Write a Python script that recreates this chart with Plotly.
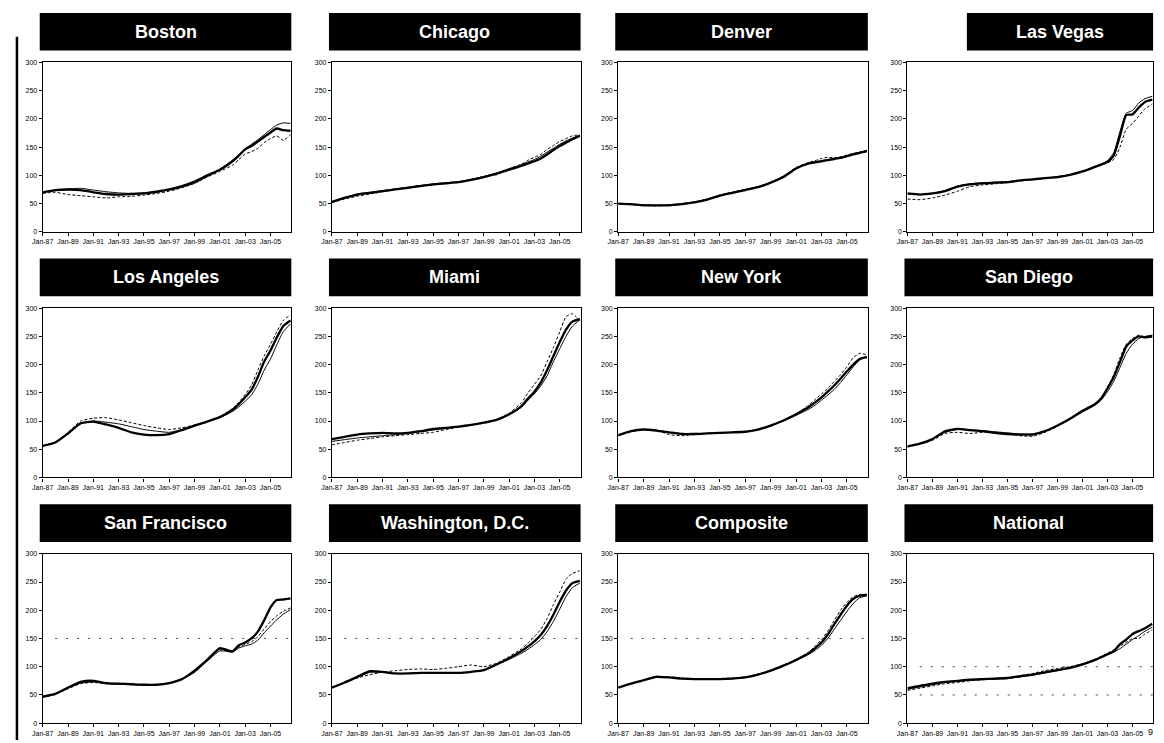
import plotly.graph_objects as go

# ---------------- data ----------------
DATES = [f"{y}-01-01" for y in range(1987, 2003)] + [
    "2002-07-01", "2003-01-01", "2003-07-01", "2004-01-01", "2004-07-01",
    "2005-01-01", "2005-07-01", "2006-01-01", "2006-08-01"]

TICK_VALS = [f"{y}-01-01" for y in range(1987, 2006, 2)]
TICK_LABELS = ["Jan-87", "Jan-89", "Jan-91", "Jan-93", "Jan-95",
               "Jan-97", "Jan-99", "Jan-01", "Jan-03", "Jan-05"]

CITIES = ["Boston", "Chicago", "Denver", "Las Vegas",
          "Los Angeles", "Miami", "New York", "San Diego",
          "San Francisco", "Washington, D.C.", "Composite", "National"]

boston_thick = [70, 74, 75, 74, 70, 67, 66, 67, 68, 71, 75, 81, 89, 100, 110, 125, 135, 146, 152, 160, 168, 176, 183, 180, 179]
boston_thin = [70, 73, 76, 77, 74, 71, 69, 68, 69, 71, 74, 79, 86, 98, 111, 127, 137, 147, 155, 163, 172, 181, 189, 193, 192]
boston_dash = [68, 70, 66, 64, 62, 60, 62, 63, 65, 68, 72, 78, 86, 97, 107, 118, 128, 138, 142, 148, 158, 165, 170, 162, 172]

chicago_thick = [53, 60, 66, 69, 72, 75, 78, 81, 84, 86, 88, 92, 97, 103, 110, 117, 121, 125, 130, 137, 145, 152, 158, 164, 170]
chicago_thin = [53, 61, 67, 70, 73, 76, 79, 82, 85, 87, 89, 93, 98, 104, 112, 119, 124, 128, 134, 141, 148, 155, 161, 166, 171]
chicago_dash = [52, 58, 63, 67, 71, 75, 79, 82, 84, 86, 88, 92, 98, 101, 112, 120, 127, 132, 137, 146, 153, 160, 165, 170, 172]

denver_thick = [50, 49, 47, 47, 47, 49, 52, 57, 64, 69, 74, 79, 87, 97, 112, 121, 123, 125, 127, 129, 131, 134, 137, 140, 143]
denver_thin = [50, 49, 48, 47, 48, 50, 53, 58, 65, 70, 75, 80, 88, 98, 113, 122, 124, 126, 128, 130, 132, 135, 138, 141, 144]
denver_dash = [50, 48, 47, 46, 47, 49, 52, 58, 65, 70, 75, 80, 88, 99, 114, 123, 126, 130, 132, 131, 133, 136, 139, 141, 144]

vegas_thick = [68, 66, 68, 72, 80, 84, 86, 87, 88, 91, 93, 95, 97, 101, 107, 115, 119, 124, 135, 170, 207, 208, 220, 230, 234]
vegas_thin = [67, 66, 68, 73, 81, 85, 87, 88, 89, 91, 93, 95, 98, 101, 107, 116, 120, 126, 140, 178, 210, 215, 228, 236, 240]
vegas_dash = [58, 57, 60, 65, 72, 80, 83, 85, 87, 90, 92, 95, 97, 101, 107, 114, 118, 122, 128, 150, 182, 192, 205, 218, 226]

la_thick = [56, 62, 78, 96, 99, 94, 88, 80, 76, 75, 77, 84, 92, 99, 107, 120, 130, 142, 155, 178, 205, 225, 248, 268, 278]
la_thin = [56, 62, 77, 95, 100, 98, 95, 90, 85, 82, 80, 85, 92, 99, 106, 117, 125, 135, 146, 165, 190, 210, 235, 258, 272]
la_dash = [56, 63, 80, 100, 105, 106, 102, 97, 92, 88, 85, 88, 93, 99, 108, 122, 133, 147, 163, 190, 215, 236, 258, 278, 288]

miami_thick = [68, 72, 76, 78, 79, 78, 79, 82, 86, 88, 90, 93, 97, 102, 112, 127, 140, 152, 168, 190, 215, 240, 262, 276, 281]
miami_thin = [64, 67, 70, 72, 74, 76, 78, 81, 84, 87, 90, 93, 97, 102, 111, 125, 137, 148, 162, 180, 205, 228, 250, 268, 279]
miami_dash = [58, 62, 66, 69, 72, 74, 76, 78, 80, 85, 89, 93, 96, 102, 114, 133, 150, 165, 180, 205, 230, 258, 285, 290, 278]

ny_thick = [75, 82, 85, 83, 80, 77, 77, 78, 79, 80, 81, 85, 92, 101, 112, 125, 133, 142, 152, 163, 175, 188, 200, 210, 213]
ny_thin = [75, 82, 85, 84, 80, 78, 78, 78, 79, 80, 81, 85, 92, 100, 110, 121, 128, 137, 146, 156, 168, 182, 196, 208, 214]
ny_dash = [74, 81, 85, 84, 76, 74, 76, 78, 79, 80, 81, 85, 92, 101, 113, 128, 138, 148, 158, 170, 182, 196, 212, 220, 217]

sd_thick = [55, 60, 68, 82, 86, 84, 82, 79, 77, 76, 76, 82, 92, 104, 118, 130, 140, 158, 178, 205, 232, 243, 250, 248, 250]
sd_thin = [55, 60, 68, 80, 85, 84, 83, 81, 79, 77, 77, 82, 91, 103, 116, 128, 137, 152, 170, 195, 220, 236, 246, 250, 252]
sd_dash = [54, 59, 66, 78, 80, 78, 80, 80, 78, 74, 73, 80, 91, 104, 118, 131, 142, 160, 182, 212, 236, 246, 252, 249, 252]

sf_thick = [47, 52, 63, 73, 75, 71, 70, 69, 68, 68, 71, 78, 93, 112, 133, 127, 138, 143, 150, 162, 182, 205, 218, 219, 221]
sf_thin = [47, 52, 62, 71, 73, 70, 69, 68, 68, 68, 71, 78, 90, 110, 128, 126, 133, 137, 140, 147, 160, 172, 183, 193, 201]
sf_dash = [46, 51, 61, 70, 72, 70, 69, 68, 68, 68, 71, 78, 90, 112, 130, 127, 135, 140, 144, 153, 167, 180, 190, 198, 204]

dc_thick = [63, 72, 82, 92, 91, 88, 88, 89, 89, 89, 89, 91, 94, 104, 115, 128, 136, 145, 156, 172, 192, 215, 235, 248, 252]
dc_thin = [63, 72, 81, 90, 90, 88, 88, 89, 89, 89, 89, 91, 94, 103, 113, 124, 131, 139, 148, 162, 180, 202, 224, 240, 248]
dc_dash = [63, 72, 80, 86, 90, 93, 95, 96, 95, 97, 100, 103, 100, 106, 118, 132, 142, 153, 166, 185, 210, 232, 255, 265, 270]

comp_thick = [63, 70, 76, 82, 81, 79, 78, 78, 78, 79, 81, 86, 93, 102, 112, 124, 133, 143, 157, 175, 192, 208, 220, 226, 227]
comp_thin = [63, 70, 76, 82, 81, 79, 78, 78, 78, 79, 81, 86, 93, 101, 111, 122, 129, 138, 150, 166, 182, 198, 212, 222, 226]
comp_dash = [63, 70, 77, 83, 82, 80, 79, 79, 79, 80, 82, 87, 94, 103, 113, 126, 136, 148, 163, 182, 200, 214, 224, 228, 228]

nat_thick = [62, 66, 70, 73, 75, 77, 78, 79, 80, 83, 86, 90, 94, 98, 104, 112, 117, 122, 127, 140, 148, 158, 163, 168, 176]
nat_thin = [60, 64, 68, 72, 74, 76, 77, 78, 79, 82, 85, 89, 93, 98, 104, 111, 116, 121, 126, 132, 140, 148, 155, 163, 170]
nat_dash = [58, 62, 66, 70, 72, 75, 77, 78, 80, 84, 88, 93, 97, 100, 105, 113, 118, 124, 130, 137, 143, 150, 150, 158, 165]

SERIES = [
    (boston_thick, boston_thin, boston_dash),
    (chicago_thick, chicago_thin, chicago_dash),
    (denver_thick, denver_thin, denver_dash),
    (vegas_thick, vegas_thin, vegas_dash),
    (la_thick, la_thin, la_dash),
    (miami_thick, miami_thin, miami_dash),
    (ny_thick, ny_thin, ny_dash),
    (sd_thick, sd_thin, sd_dash),
    (sf_thick, sf_thin, sf_dash),
    (dc_thick, dc_thin, dc_dash),
    (comp_thick, comp_thin, comp_dash),
    (nat_thick, nat_thin, nat_dash),
]

# faint dotted reference lines visible in the scan (panel index -> levels)
GUIDES = {8: [150], 9: [150], 10: [150], 11: [100, 50]}

# ---------------- layout ----------------
W, H = 1164, 743
COL_X0 = [32, 324, 613, 905]
COL_W = [251, 251, 252, 248]
ROW_Y0 = [59, 307, 555]
PLOT_H = 171
BOX_H = 38
BOX_GAP = 12

fig = go.Figure()
shapes, annotations = [], []
lay = {}
tick_font = dict(family="Liberation Sans", size=7, color="black")

for i, name in enumerate(CITIES):
    r, c = divmod(i, 4)
    n = i + 1
    x0, w = COL_X0[c], COL_W[c]
    y0 = ROW_Y0[r]
    xa, ya = f"x{n}", f"y{n}"
    axsuf = "" if n == 1 else str(n)
    lay[f"xaxis{axsuf}"] = dict(
        domain=[x0 / W, (x0 + w) / W], anchor=ya, type="date",
        range=["1987-01-01", "2006-08-25"],
        tickvals=TICK_VALS, ticktext=TICK_LABELS,
        ticks="outside", ticklen=3, tickwidth=1, tickcolor="black",
        showline=True, linecolor="black", linewidth=1.2, mirror=True,
        showgrid=False, zeroline=False, tickfont=tick_font,
    )
    lay[f"yaxis{axsuf}"] = dict(
        domain=[1 - (y0 + PLOT_H) / H, 1 - y0 / H], anchor=xa,
        range=[0, 300], dtick=50, ticks="outside", ticklen=3, tickwidth=1,
        tickcolor="black", showline=True, linecolor="black", linewidth=1.2,
        mirror=True, showgrid=False, zeroline=False, tickfont=tick_font,
    )
    thick, thin, dash = SERIES[i]
    fig.add_trace(go.Scatter(x=DATES, y=dash, xaxis=xa, yaxis=ya, mode="lines",
                             line=dict(color="black", width=1, dash="3px,2px",
                                       shape="spline", smoothing=0.5),
                             showlegend=False, hoverinfo="skip"))
    fig.add_trace(go.Scatter(x=DATES, y=thin, xaxis=xa, yaxis=ya, mode="lines",
                             line=dict(color="black", width=1,
                                       shape="spline", smoothing=0.5),
                             showlegend=False, hoverinfo="skip"))
    fig.add_trace(go.Scatter(x=DATES, y=thick, xaxis=xa, yaxis=ya, mode="lines",
                             line=dict(color="black", width=2.3,
                                       shape="spline", smoothing=0.5),
                             showlegend=False, hoverinfo="skip"))

    # black title box
    bx0 = x0 - 3 if i != 3 else 965
    bx1 = x0 + w
    by1 = y0 - BOX_GAP
    by0 = by1 - BOX_H
    shapes.append(dict(type="rect", xref="paper", yref="paper",
                       x0=bx0 / W, x1=bx1 / W, y0=1 - by1 / H, y1=1 - by0 / H,
                       fillcolor="black", line=dict(width=0), layer="above"))
    annotations.append(dict(text=f"<b>{name}</b>", xref="paper", yref="paper",
                            x=(bx0 + bx1) / 2 / W, y=1 - (by0 + by1) / 2 / H,
                            xanchor="center", yanchor="middle", showarrow=False,
                            font=dict(family="Liberation Sans", size=18, color="white")))

    for lvl in GUIDES.get(i, []):
        shapes.append(dict(type="line", xref=f"{xa} domain", yref=ya,
                           x0=0.05, x1=1.0, y0=lvl, y1=lvl,
                           line=dict(color="#444", width=1, dash="2px,9px")))

# left margin bar from the scan
shapes.append(dict(type="line", xref="paper", yref="paper",
                   x0=6 / W, x1=6 / W, y0=0, y1=1 - 33 / H,
                   line=dict(color="black", width=2.5)))
annotations.append(dict(text="9", xref="paper", yref="paper", x=1150 / W, y=1 - 735 / H,
                        xanchor="center", yanchor="middle", showarrow=False,
                        font=dict(family="Liberation Sans", size=9, color="black")))

fig.update_layout(
    width=W, height=H, margin=dict(l=0, r=0, t=0, b=0),
    paper_bgcolor="white", plot_bgcolor="white",
    shapes=shapes, annotations=annotations, **lay,
)
fig.write_html("out.html", config={"displayModeBar": False},
               post_script="document.body.style.margin='0';document.body.style.overflow='hidden';")
